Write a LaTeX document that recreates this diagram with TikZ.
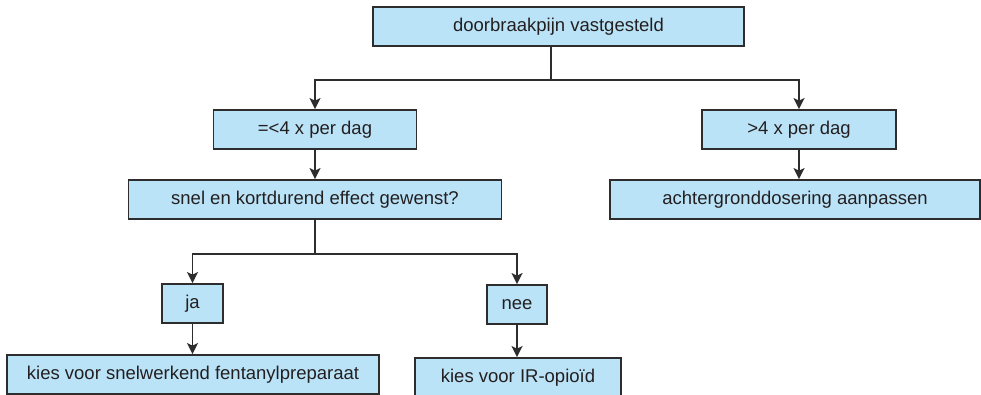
\documentclass[tikz,border=0pt]{standalone}
\usepackage{fontspec}
\setmainfont{Liberation Sans}
\usetikzlibrary{arrows.meta}
\definecolor{boxfill}{RGB}{187,227,248}
\definecolor{boxline}{RGB}{45,45,45}
\definecolor{txt}{RGB}{35,31,32}
\begin{document}
\begin{tikzpicture}[x=1pt,y=-1pt,
  box/.style={draw=boxline,fill=boxfill,line width=1.8pt,text=txt,
    minimum height=39pt,inner sep=0pt,anchor=center,
    font=\fontsize{18.5}{22}\selectfont},
  link/.style={draw=boxline,line width=1.8pt},
  arr/.style={link,-{Stealth[length=11pt,width=11pt,inset=2.5pt]}}]
\useasboundingbox (0,0) rectangle (981,395);

% boxes
\node[box,minimum width=371pt] (top) at (558.5,26.5) {doorbraakpijn vastgesteld};
\node[box,minimum width=203pt] (le4) at (315,129.5) {=<4 x per dag};
\node[box,minimum width=373pt] (snel) at (315,199.5) {snel en kortdurend effect gewenst?};
\node[box,minimum width=194pt] (gt4) at (799,129.5) {>4 x per dag};
\node[box,minimum width=370pt] (acht) at (795,199.5) {achtergronddosering aanpassen};
\node[box,minimum width=61pt] (ja) at (192.5,303.5) {ja};
\node[box,minimum width=60pt] (nee) at (517,304.5) {nee};
\node[box,minimum width=372pt] (fent) at (193,374.5) {kies voor snelwerkend fentanylpreparaat};
\node[box,minimum width=206pt,minimum height=40pt] (ir) at (518,378) {kies voor IR-opioïd};

% split points
\coordinate (s1) at (551,80);
\coordinate (s2) at (315,254);

% connectors
\draw[link] (top.south -| s1) -- (s1);
\draw[arr] (s1) -| (le4.north);
\draw[arr] (s1) -| (gt4.north);
\draw[arr] (le4.south) -- (snel.north);
\draw[arr] (gt4.south) -- (gt4.south |- acht.north);
\draw[link] (snel.south) -- (s2);
\draw[arr] (s2) -| (ja.north);
\draw[arr] (s2) -| (nee.north);
\draw[arr] (ja.south) -- (ja.south |- fent.north);
\draw[arr] (nee.south) -- (nee.south |- ir.north);
\end{tikzpicture}
\end{document}
